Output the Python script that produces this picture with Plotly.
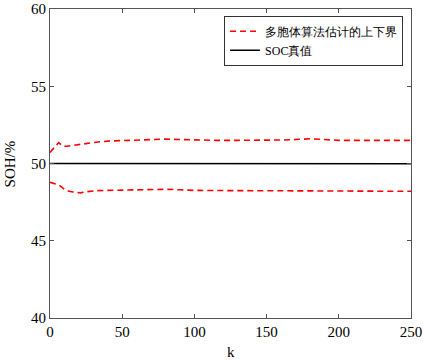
import plotly.graph_objects as go

k_upper = [0, 3, 6, 9, 12, 18, 25, 32, 40, 50, 60, 70, 80, 90, 100, 115, 130, 145, 160, 170, 180, 190, 200, 215, 230, 250]
upper = [50.72, 51.05, 51.35, 51.12, 51.12, 51.2, 51.3, 51.38, 51.45, 51.48, 51.5, 51.55, 51.58, 51.55, 51.52, 51.5, 51.5, 51.5, 51.52, 51.55, 51.6, 51.55, 51.5, 51.5, 51.5, 51.5]

k_lower = [0, 3, 6, 9, 12, 16, 21, 26, 32, 40, 50, 60, 70, 80, 90, 100, 115, 130, 145, 160, 180, 200, 215, 230, 250]
lower = [48.78, 48.7, 48.62, 48.4, 48.22, 48.15, 48.1, 48.18, 48.24, 48.26, 48.28, 48.3, 48.32, 48.33, 48.3, 48.26, 48.25, 48.24, 48.22, 48.23, 48.24, 48.22, 48.2, 48.2, 48.2]

k_true = [0, 25, 50, 75, 100, 125, 150, 175, 200, 225, 250]
true_val = [50.0, 50.0, 49.97, 49.97, 49.97, 49.97, 49.97, 49.98, 50.0, 50.0, 49.98]

x_ticks = [0, 50, 100, 150, 200, 250]
y_ticks = [40, 45, 50, 55, 60]

font_fam = "Times New Roman"

fig = go.Figure()
fig.add_trace(go.Scatter(x=k_upper, y=upper, mode="lines", name="多胞体算法估计的上下界",
                         line=dict(color="#ff0000", width=1.6, dash="6px,4px"), legendgroup="b"))
fig.add_trace(go.Scatter(x=k_lower, y=lower, mode="lines", showlegend=False,
                         line=dict(color="#ff0000", width=1.6, dash="6px,4px"), legendgroup="b"))
fig.add_trace(go.Scatter(x=k_true, y=true_val, mode="lines", name="SOC真值",
                         line=dict(color="#000000", width=1.6)))

axis_common = dict(showgrid=False, zeroline=False, showline=True, linecolor="#555555", linewidth=1,
                   mirror="ticks", ticks="inside", ticklen=4, tickcolor="#555555",
                   ticklabeloverflow="allow", automargin=False,
                   tickfont=dict(family=font_fam, size=15, color="#000"))

fig.update_xaxes(range=[0, 250], tickvals=x_ticks, **axis_common)
fig.update_yaxes(range=[40, 60], tickvals=y_ticks, **axis_common)

fig.add_annotation(text="k", xref="paper", yref="paper", x=0.5, y=-0.11,
                   xanchor="center", yanchor="middle", showarrow=False,
                   font=dict(family=font_fam, size=15, color="#000"))
fig.add_annotation(text="SOH/%", xref="paper", yref="paper", x=-0.111, y=0.5,
                   xanchor="center", yanchor="middle", showarrow=False, textangle=-90,
                   font=dict(family=font_fam, size=15, color="#000"))

fig.update_layout(
    width=425, height=361,
    margin=dict(l=50, r=14, t=9, b=43),
    plot_bgcolor="white", paper_bgcolor="white",
    font=dict(family=font_fam, size=13, color="#000"),
    legend=dict(x=0.978, y=0.978, xanchor="right", yanchor="top",
                bordercolor="#333333", borderwidth=1, bgcolor="white",
                font=dict(family=font_fam, size=12, color="#000"),
                tracegroupgap=0, itemwidth=30),
    showlegend=True,
)

fig.write_html("out.html", config={"displayModeBar": False},
               post_script="document.body.style.margin='0';document.body.style.overflow='hidden';")
